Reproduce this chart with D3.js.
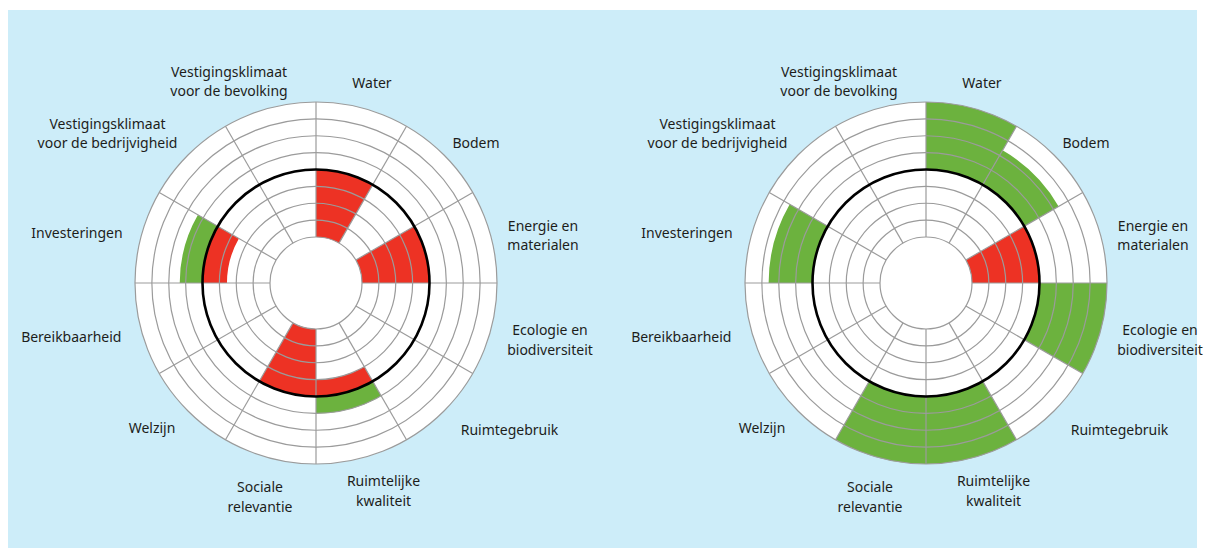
<!DOCTYPE html>
<html>
<head>
<meta charset="utf-8">
<script src="https://cdn.jsdelivr.net/npm/d3@7"></script>
<style>
  body { margin: 0; background: #fff; }
  text { font-family: "Noto Sans", sans-serif; font-size: 14px; fill: #1d1d1b; }
</style>
</head>
<body>
<svg width="1205" height="548"></svg>
<script>
// categories clockwise from 12 o'clock, one line of text per entry
var categories = [
  ["Water"], ["Bodem"], ["Energie en", "materialen"], ["Ecologie en", "biodiversiteit"],
  ["Ruimtegebruik"], ["Ruimtelijke", "kwaliteit"], ["Sociale", "relevantie"], ["Welzijn"],
  ["Bereikbaarheid"], ["Investeringen"], ["Vestigingsklimaat", "voor de bedrijvigheid"],
  ["Vestigingsklimaat", "voor de bevolking"]
];
// values in rings: red goes inwards from the black circle, green outwards
var leftRed    = [4, 0, 4, 0, 0, 1, 4, 0, 0, 1.45, 0, 0];
var leftGreen  = [0, 0, 0, 0, 0, 1, 0, 0, 0, 1.35, 0, 0];
var rightRed   = [0, 0, 4, 0, 0, 0, 0, 0, 0, 0, 0, 0];
var rightGreen = [4, 2.35, 0, 4, 0, 4, 4, 0, 0, 2.6, 0, 0];
var levels = [-4, -3, -2, -1, 0, 1, 2, 3, 4];

// label block centres relative to the chart centre
var labelOffset = [
  [56, -200], [160, -140.5], [227, -47.5], [234, 57], [193.5, 147], [67.5, 208],
  [-56, 214], [-164, 145], [-244.7, 53.7], [-239, -49.7], [-208.5, -149.7], [-87, -201.3]
];

var svg = d3.select("svg");
var cy = 283, lineH = 19.5;

svg.append("rect")
  .attr("x", 8).attr("y", 10)
  .attr("width", 1189).attr("height", 538)
  .attr("fill", "#cdedf9");

var r = d3.scaleLinear().domain([-4, 4]).range([46, 181]);
var angle = d3.scaleBand().domain(d3.range(categories.length)).range([0, 2 * Math.PI]);

var arc = d3.arc()
  .startAngle(function(d) { return angle(d.i); })
  .endAngle(function(d) { return angle(d.i) + angle.bandwidth(); })
  .innerRadius(function(d) { return d.r0; })
  .outerRadius(function(d) { return d.r1; });

function drawChart(cx, red, green) {
  var g = svg.append("g").attr("transform", "translate(" + cx + "," + cy + ")");

  g.append("circle").attr("r", r(4)).attr("fill", "#fff");

  var segs = [];
  red.forEach(function(v, i) {
    if (v > 0) segs.push({ i: i, r0: r(-v), r1: r(0), c: "#ed3224" });
  });
  green.forEach(function(v, i) {
    if (v > 0) segs.push({ i: i, r0: r(0), r1: r(v), c: "#6cb23e" });
  });

  g.selectAll("path.seg")
    .data(segs)
    .enter().append("path")
    .attr("class", "seg")
    .attr("d", arc)
    .attr("fill", function(d) { return d.c; });

  // spokes
  g.selectAll("line.spoke")
    .data(angle.domain())
    .enter().append("line")
    .attr("class", "spoke")
    .attr("x1", function(i) { return Math.sin(angle(i)) * r(-4); })
    .attr("y1", function(i) { return -Math.cos(angle(i)) * r(-4); })
    .attr("x2", function(i) { return Math.sin(angle(i)) * r(4); })
    .attr("y2", function(i) { return -Math.cos(angle(i)) * r(4); })
    .attr("stroke", "#9b9b9b")
    .attr("stroke-width", 1.2);

  // rings
  g.selectAll("circle.ring")
    .data(levels.filter(function(l) { return l !== 0; }))
    .enter().append("circle")
    .attr("class", "ring")
    .attr("r", function(l) { return r(l); })
    .attr("fill", "none")
    .attr("stroke", "#9b9b9b")
    .attr("stroke-width", 1.2);

  g.append("circle")
    .attr("r", r(0))
    .attr("fill", "none")
    .attr("stroke", "#000")
    .attr("stroke-width", 2.6);

  var lab = g.selectAll("text.lab")
    .data(categories)
    .enter().append("text")
    .attr("class", "lab")
    .attr("text-anchor", "middle");

  lab.each(function(lines, i) {
    var t = d3.select(this);
    var x0 = labelOffset[i][0];
    var y0 = labelOffset[i][1] - (lines.length - 1) * lineH / 2 + 5;
    lines.forEach(function(s, k) {
      t.append("tspan")
        .attr("x", x0)
        .attr("y", y0 + k * lineH)
        .text(s);
    });
  });
}

drawChart(316, leftRed, leftGreen);
drawChart(926, rightRed, rightGreen);
</script>
</body>
</html>
